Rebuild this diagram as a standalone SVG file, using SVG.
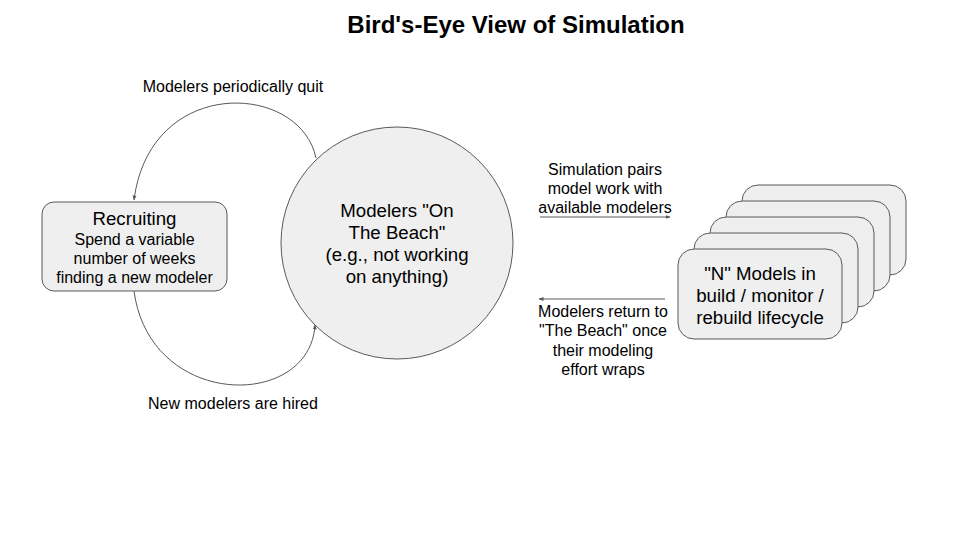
<svg xmlns="http://www.w3.org/2000/svg" width="960" height="540" viewBox="0 0 960 540">
<defs>
<marker id="ah" viewBox="0 0 10 10" refX="9" refY="5" markerWidth="5" markerHeight="5" orient="auto-start-reverse" markerUnits="userSpaceOnUse">
<path d="M0,1 L10,5 L0,9 Z" fill="#595959"/>
</marker>
</defs>
<style>
text{font-family:"Liberation Sans",Arial,sans-serif;fill:#000;text-anchor:middle}
.t{font-size:24px;font-weight:bold}
.l{font-size:16px}
.m{font-size:18.67px}
.shape{fill:#efefef;stroke:#595959;stroke-width:1}
.c{fill:none;stroke:#595959;stroke-width:1}
</style>
<rect width="960" height="540" fill="#fff"/>
<text class="t" x="516" y="33">Bird's-Eye View of Simulation</text>

<g id="connectors">
<path class="c" d="M316,158 C300,82 150,75 134,200" marker-end="url(#ah)"/>
<path class="c" d="M134,291 C150,410 310,410 315,325" marker-end="url(#ah)"/>
<line class="c" x1="540" y1="217" x2="670" y2="217" marker-end="url(#ah)"/>
<line class="c" x1="665" y1="299" x2="539" y2="299" marker-end="url(#ah)"/>
<text class="l" x="233" y="92">Modelers periodically quit</text>
<text class="l" x="233" y="409">New modelers are hired</text>
<text class="l" x="605" y="175">Simulation pairs</text>
<text class="l" x="605" y="194">model work with</text>
<text class="l" x="605" y="213">available modelers</text>
<text class="l" x="603" y="317">Modelers return to</text>
<text class="l" x="603" y="336">"The Beach" once</text>
<text class="l" x="603" y="356">their modeling</text>
<text class="l" x="603" y="375">effort wraps</text>
</g>

<g id="recruiting">
<rect class="shape" x="42" y="202" width="185" height="89" rx="12"/>
<text class="m" x="134.5" y="225">Recruiting</text>
<text class="l" x="134.5" y="245">Spend a variable</text>
<text class="l" x="134.5" y="264">number of weeks</text>
<text class="l" x="134.5" y="283">finding a new modeler</text>
</g>

<g id="beach">
<circle class="shape" cx="397" cy="243" r="116"/>
<text class="m" x="397" y="217">Modelers "On</text>
<text class="m" x="397" y="239">The Beach"</text>
<text class="m" x="397" y="261">(e.g., not working</text>
<text class="m" x="397" y="283">on anything)</text>
</g>

<g id="models">
<rect class="shape" x="742" y="185" width="164" height="90" rx="16"/>
<rect class="shape" x="726" y="201" width="164" height="90" rx="16"/>
<rect class="shape" x="710" y="217" width="164" height="90" rx="16"/>
<rect class="shape" x="694" y="233" width="164" height="90" rx="16"/>
<rect class="shape" x="678" y="249" width="164" height="90" rx="16"/>
<text class="m" x="760" y="280">"N" Models in</text>
<text class="m" x="760" y="302">build / monitor /</text>
<text class="m" x="760" y="324">rebuild lifecycle</text>
</g>
</svg>
